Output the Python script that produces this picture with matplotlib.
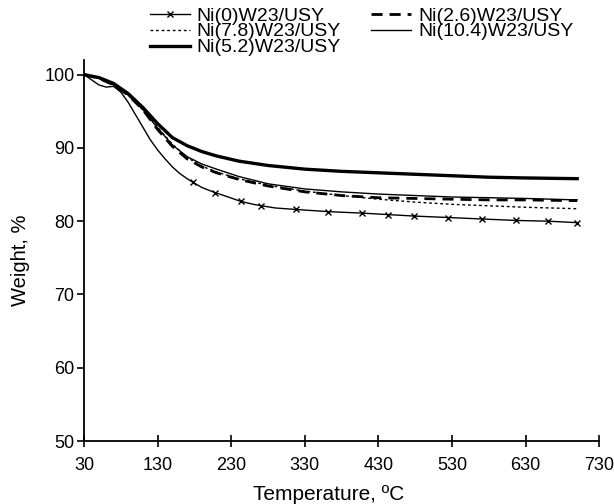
import matplotlib
matplotlib.use("Agg")
import matplotlib.pyplot as plt
import numpy as np

plt.rcParams['font.family'] = ['Liberation Sans', 'DejaVu Sans']

# Ni(0)W23/USY (thin line with x markers)
t_ni0 = [30, 40, 50, 60, 70, 80, 90, 100, 110, 120, 130, 140, 150, 160, 170, 178, 190, 200,
         208, 220, 243, 260, 271, 290, 318, 362, 408, 443, 478, 525, 570, 617, 660, 700]
w_ni0 = [100, 99.3, 98.6, 98.3, 98.4, 97.6, 96.2, 94.5, 92.8, 91.1, 89.7, 88.5, 87.4, 86.5,
         85.8, 85.3, 84.6, 84.2, 83.9, 83.5, 82.7, 82.3, 82.1, 81.8, 81.6, 81.3, 81.1, 80.9,
         80.7, 80.5, 80.3, 80.1, 80.0, 79.8]
ni0_marker_temps = [178, 208, 243, 271, 318, 362, 408, 443, 478, 525, 570, 617, 660, 700]

# Common temperature grid for other series
temps = [30, 50, 70, 90, 110, 130, 150, 170, 190, 210, 240, 280, 330, 380, 430, 480, 530, 580, 630, 700]
w_ni26 = [100, 99.5, 98.6, 97.2, 95.2, 92.5, 90.2, 88.5, 87.4, 86.6, 85.7, 84.8, 84.0, 83.5,
          83.2, 83.1, 83.0, 82.9, 82.9, 82.8]
w_ni78 = [100, 99.5, 98.6, 97.2, 95.2, 92.8, 90.5, 88.7, 87.5, 86.7, 85.8, 84.9, 84.1, 83.5,
          83.0, 82.6, 82.3, 82.1, 81.9, 81.7]
w_ni104 = [100, 99.5, 98.6, 97.2, 95.2, 92.7, 90.4, 88.8, 87.8, 87.1, 86.1, 85.1, 84.4, 84.0,
           83.7, 83.5, 83.3, 83.2, 83.1, 82.9]
w_ni52 = [100, 99.6, 98.8, 97.4, 95.5, 93.3, 91.4, 90.3, 89.5, 88.9, 88.2, 87.6, 87.1, 86.8,
          86.6, 86.4, 86.2, 86.0, 85.9, 85.8]

x_ticks = [30, 130, 230, 330, 430, 530, 630, 730]
y_ticks = [50, 60, 70, 80, 90, 100]

fig = plt.figure(figsize=(6.14, 5.04), dpi=100)
ax = fig.add_axes([0.137, 0.125, 0.839, 0.756])

mk_idx = [t_ni0.index(t) for t in ni0_marker_temps]
l0, = ax.plot(t_ni0, w_ni0, color='black', lw=1.0, marker='x', markersize=5,
              markeredgewidth=1.0, markevery=mk_idx, label='Ni(0)W23/USY')
l78, = ax.plot(temps, w_ni78, color='black', lw=1.0, linestyle=(0, (2, 2)), label='Ni(7.8)W23/USY')
l52, = ax.plot(temps, w_ni52, color='black', lw=2.4, label='Ni(5.2)W23/USY')
l26, = ax.plot(temps, w_ni26, color='black', lw=2.0, linestyle=(0, (4, 2.5)), label='Ni(2.6)W23/USY')
l104, = ax.plot(temps, w_ni104, color='black', lw=1.0, label='Ni(10.4)W23/USY')

ax.set_xlim(30, 730)
ax.set_ylim(50, 102)
ax.set_xticks(x_ticks)
ax.set_yticks(y_ticks)
ax.spines['top'].set_visible(False)
ax.spines['right'].set_visible(False)
for s in ['left', 'bottom']:
    ax.spines[s].set_linewidth(1.3)
ax.tick_params(axis='x', direction='inout', length=9, width=1.2, labelsize=13, pad=7)
ax.tick_params(axis='y', direction='out', length=5, width=1.2, labelsize=13, pad=2)
ax.set_xlabel('Temperature, ºC', fontsize=15)
ax.set_ylabel('Weight, %', fontsize=14.5)
ax.xaxis.set_label_coords(0.474, -0.116)
ax.yaxis.set_label_coords(-0.105, 0.475)

fig.legend(handles=[l0, l78, l52, l26, l104], ncol=2, frameon=False, fontsize=14,
           loc='upper left', bbox_to_anchor=(150 / 614, 1 - 7 / 504), handlelength=2.06,
           handletextpad=0.35, columnspacing=1.55, labelspacing=-0.09, borderpad=0,
           borderaxespad=0)

fig.savefig('out.png', dpi=100)
